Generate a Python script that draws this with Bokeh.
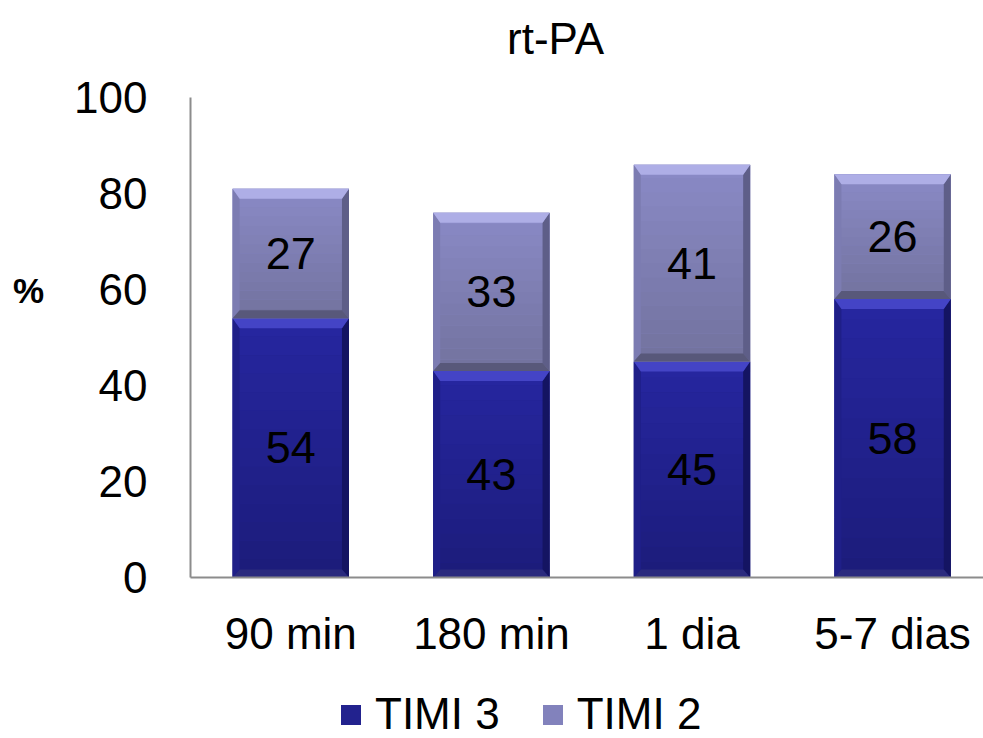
from bokeh.plotting import figure
from bokeh.models import Range1d, Legend, LegendItem, Label, ColumnDataSource
from bokeh.core.properties import value
from bokeh.embed import file_html
from bokeh.resources import INLINE

# ---- data -------------------------------------------------------------
categories = ["90 min", "180 min", "1 dia", "5-7 dias"]
timi3 = [54, 43, 45, 58]
timi2 = [27, 33, 41, 26]
y_ticks = [0, 20, 40, 60, 80, 100]

FONT = "Liberation Sans"
W, H = 983, 738
ORIGIN_X, ORIGIN_Y = 190, 577   # canvas pixel of (category start, 0 %)
PX_X = 200.6                    # pixels per category slot
PX_Y = 4.8                      # pixels per percentage point
BAR_W = 0.58
AXIS_COLOR = "#8c8c8c"

# the frame spans the whole canvas so that title, axis texts and legend
# can be placed freely around the bars
p = figure(width=W, height=H, output_backend="svg", toolbar_location=None,
           x_range=Range1d(-ORIGIN_X / PX_X, (W - ORIGIN_X) / PX_X),
           y_range=Range1d(-(H - ORIGIN_Y) / PX_Y, ORIGIN_Y / PX_Y),
           min_border=0)
p.axis.visible = False
p.grid.visible = False
p.outline_line_color = None
p.background_fill_color = "white"
p.border_fill_color = "white"

centers = [i + 0.5 for i in range(len(categories))]
x_end = (W - ORIGIN_X) / PX_X


def hex_mix(c1, c2, t):
    a = [int(c1[i:i + 2], 16) for i in (1, 3, 5)]
    b = [int(c2[i:i + 2], 16) for i in (1, 3, 5)]
    return "#%02x%02x%02x" % tuple(round(a[k] + (b[k] - a[k]) * t) for k in range(3))


def bevel_bar(bottoms, tops, body, grad_top, grad_bot, c_top, c_bot, c_left, c_right):
    left = [c - BAR_W / 2 for c in centers]
    right = [c + BAR_W / 2 for c in centers]
    body_r = p.quad(left=left, right=right, bottom=bottoms, top=tops,
                    fill_color=body, line_color=None)
    # vertical shading of the face
    n = 14
    L, R, B, T, C = [], [], [], [], []
    for i in range(len(centers)):
        h = tops[i] - bottoms[i]
        for k in range(n):
            L.append(left[i]); R.append(right[i])
            T.append(tops[i] - h * k / n)
            B.append(tops[i] - h * (k + 1) / n)
            C.append(hex_mix(grad_top, grad_bot, (k + 0.5) / n))
    p.quad(left="l", right="r", bottom="b", top="t", fill_color="c", line_color=None,
           source=ColumnDataSource(dict(l=L, r=R, b=B, t=T, c=C)))
    # bevelled edges
    sx = 7 / PX_X
    sy_t = 10 / PX_Y
    sy_b = 8 / PX_Y
    xs_t, ys_t, xs_b, ys_b, xs_l, ys_l, xs_r, ys_r = ([] for _ in range(8))
    for i in range(len(centers)):
        x0, x1, y0, y1 = left[i], right[i], bottoms[i], tops[i]
        xs_t.append([x0, x1, x1 - sx, x0 + sx]); ys_t.append([y1, y1, y1 - sy_t, y1 - sy_t])
        xs_b.append([x0, x1, x1 - sx, x0 + sx]); ys_b.append([y0, y0, y0 + sy_b, y0 + sy_b])
        xs_l.append([x0, x0 + sx, x0 + sx, x0]); ys_l.append([y0, y0 + sy_b, y1 - sy_t, y1])
        xs_r.append([x1, x1 - sx, x1 - sx, x1]); ys_r.append([y0, y0 + sy_b, y1 - sy_t, y1])
    p.patches(xs_l, ys_l, fill_color=c_left, line_color=None)
    p.patches(xs_r, ys_r, fill_color=c_right, line_color=None)
    p.patches(xs_t, ys_t, fill_color=c_top, line_color=None)
    p.patches(xs_b, ys_b, fill_color=c_bot, line_color=None)
    return body_r


tops3 = list(timi3)
r3 = bevel_bar([0] * len(timi3), tops3, "#22228e", "#2626a0", "#1c1c7a",
               "#4444c6", "#2b2b7e", "#1f1f88", "#141462")
tops2 = [a + b for a, b in zip(timi3, timi2)]
r2 = bevel_bar(tops3, tops2, "#8282bc", "#8a8ac6", "#72729e",
               "#aeaee6", "#58587a", "#7c7cb2", "#5e5e88")

# value labels inside each segment
p.text(x=centers, y=[v / 2 for v in timi3], text=[str(v) for v in timi3],
       text_font=value(FONT), text_font_size="45px", text_align="center",
       text_baseline="middle", text_color="black")
p.text(x=centers, y=[a + b / 2 for a, b in zip(timi3, timi2)],
       text=[str(v) for v in timi2],
       text_font=value(FONT), text_font_size="45px", text_align="center",
       text_baseline="middle", text_color="black")

# axis lines
p.segment(x0=[0, 0], y0=[0, 0], x1=[0, x_end], y1=[max(y_ticks), 0],
          line_color=AXIS_COLOR, line_width=2)

# y tick labels
p.text(x=[-43 / PX_X] * len(y_ticks), y=y_ticks, text=[str(t) for t in y_ticks],
       text_font=value(FONT), text_font_size="44px", text_align="right",
       text_baseline="middle", text_color="black")

# category labels
p.text(x=centers, y=[-(633 - ORIGIN_Y) / PX_Y] * len(centers), text=categories,
       text_font=value(FONT), text_font_size="44px", text_align="center",
       text_baseline="middle", text_color="black")

# title and unit label
p.add_layout(Label(x=(555 - ORIGIN_X) / PX_X, y=(ORIGIN_Y - 38) / PX_Y, text="rt-PA",
                   text_font=FONT, text_font_size="44px", text_align="center",
                   text_baseline="middle", text_color="black"))
p.add_layout(Label(x=(28 - ORIGIN_X) / PX_X, y=(ORIGIN_Y - 290) / PX_Y, text="%",
                   text_font=FONT, text_font_size="35px", text_font_style="bold",
                   text_align="center", text_baseline="middle", text_color="black"))

legend = Legend(items=[LegendItem(label="TIMI 3", renderers=[r3]),
                       LegendItem(label="TIMI 2", renderers=[r2])],
                orientation="horizontal", location=(338, -1),
                glyph_width=25, glyph_height=25, label_standoff=12, spacing=40,
                padding=0, margin=0, border_line_color=None,
                background_fill_alpha=0, label_text_font=FONT,
                label_text_font_size="44px", label_text_color="black")
p.add_layout(legend)

open("out.html", "w").write(file_html(p, INLINE))
